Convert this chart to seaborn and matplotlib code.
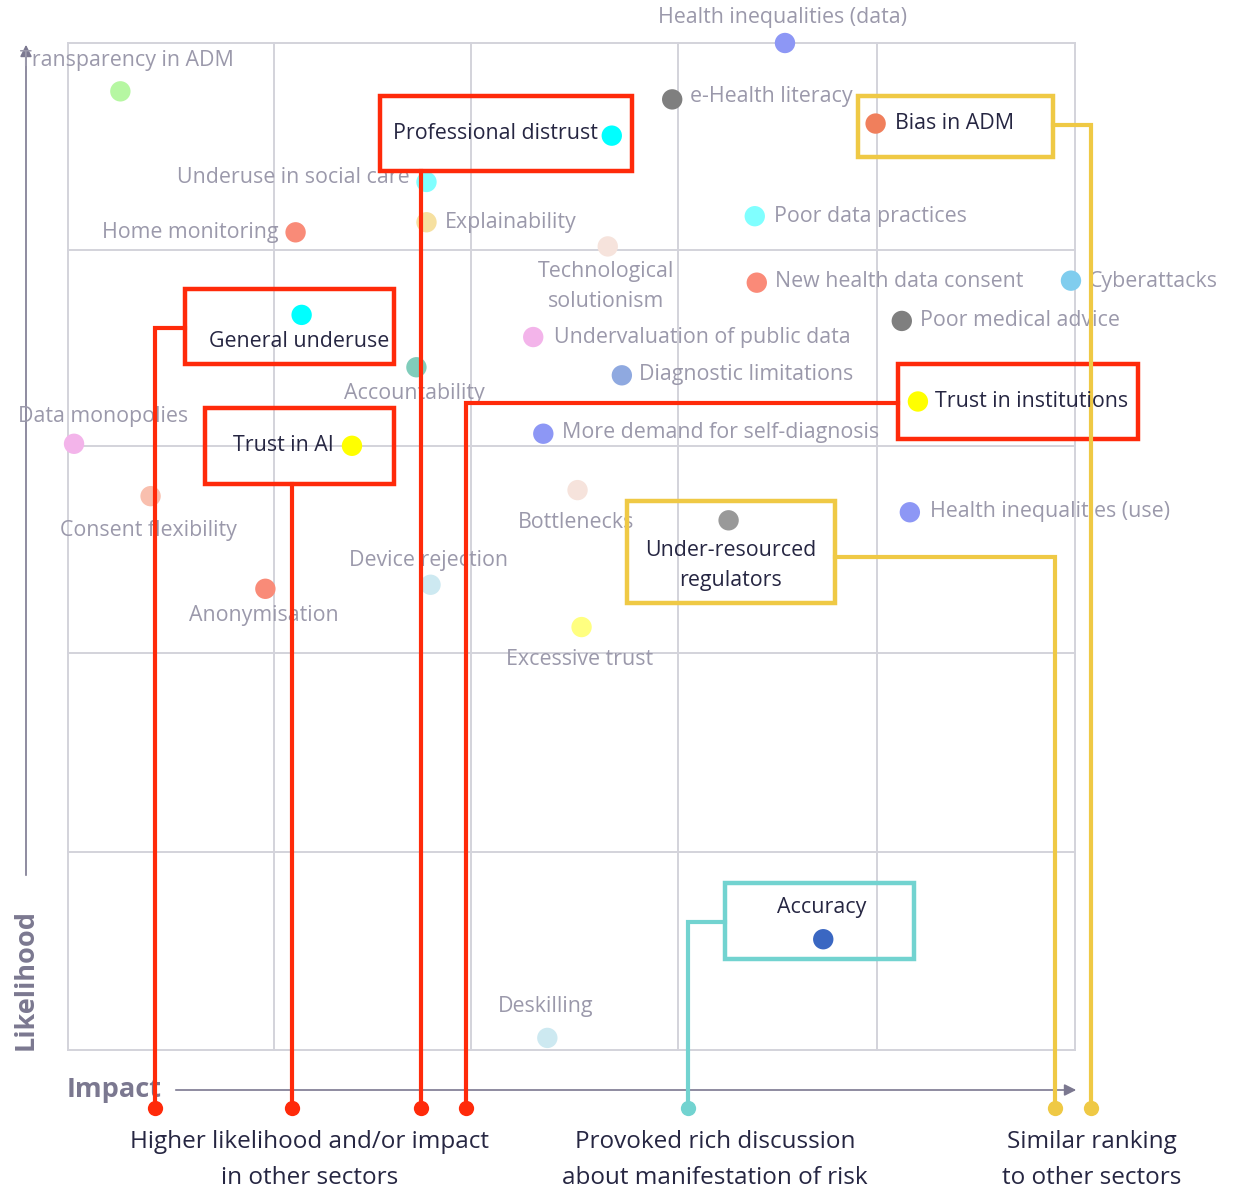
"""Risk matrix: likelihood vs impact of data-driven health risks, with highlighted groups."""

import matplotlib

matplotlib.use("Agg")

import matplotlib.pyplot as plt
import pandas as pd
import seaborn as sns
from matplotlib.patches import Rectangle

# --- data (impact / likelihood on a 0-5 grid) -------------------------------
risks = [
    "Transparency in ADM", "Health inequalities (data)", "e-Health literacy",
    "Professional distrust", "Bias in ADM", "Underuse in social care",
    "Explainability", "Poor data practices", "Home monitoring",
    "Technological\nsolutionism", "New health data consent", "Cyberattacks",
    "Poor medical advice", "General underuse", "Undervaluation of public data",
    "Accountability", "Diagnostic limitations", "Trust in institutions",
    "Data monopolies", "Trust in AI", "More demand for self-diagnosis",
    "Consent flexibility", "Bottlenecks", "Under-resourced\nregulators",
    "Health inequalities (use)", "Device rejection", "Anonymisation",
    "Excessive trust", "Accuracy", "Deskilling",
]
impact = [
    0.26, 3.56, 3.00, 2.70, 4.01, 1.78, 1.78, 3.41, 1.13, 2.68,
    3.42, 4.98, 4.14, 1.16, 2.31, 1.73, 2.75, 4.22, 0.03, 1.41,
    2.36, 0.41, 2.53, 3.28, 4.18, 1.80, 0.98, 2.55, 3.75, 2.38,
]
likelihood = [
    4.76, 5.00, 4.72, 4.54, 4.60, 4.31, 4.11, 4.14, 4.06, 3.99,
    3.81, 3.82, 3.62, 3.65, 3.54, 3.39, 3.35, 3.22, 3.01, 3.00,
    3.06, 2.75, 2.78, 2.63, 2.67, 2.31, 2.29, 2.10, 0.55, 0.06,
]
colors = [
    "#b6f7a2", "#8d97f5", "#7f7f7f", "#00ffff", "#f07f5c", "#80ffff",
    "#f6e0a0", "#80ffff", "#f98b78", "#f6e3dc", "#fa8a78", "#80cdee",
    "#7f7f7f", "#00ffff", "#f3b4ea", "#80cdbb", "#8fa9e0", "#ffff00",
    "#f3b4ea", "#ffff00", "#8d97f5", "#f9bfae", "#f6e3dc", "#999999",
    "#8d97f5", "#cde9f1", "#f98b78", "#ffff80", "#3a67c2", "#cde9f1",
]
highlighted = {
    "Professional distrust", "Bias in ADM", "General underuse",
    "Trust in institutions", "Trust in AI", "Under-resourced\nregulators", "Accuracy",
}
group_labels = [
    "Higher likelihood and/or impact\nin other sectors",
    "Provoked rich discussion\nabout manifestation of risk",
    "Similar ranking\nto other sectors",
]

# --- layout (pixels on the 1238x1189 canvas) --------------------------------
W, H = 1238, 1189
UNIT = 201.4
X0, Y0 = 68, 1050


def d(px, py):
    """Pixel position -> data coordinates."""
    return (px - X0) / UNIT, (Y0 - py) / UNIT


grid_px_x = [68, 274, 471, 678, 877, 1075]
grid_px_y = [43, 250, 446, 653, 852, 1050]

# label offsets (dx, dy px; +dy is up), horizontal alignment
label_pos = {
    "Transparency in ADM": (7, 31, "center"),
    "Health inequalities (data)": (-2, 26, "center"),
    "e-Health literacy": (18, 3, "left"),
    "Professional distrust": (-14, 2, "right"),
    "Bias in ADM": (19, 0, "left"),
    "Underuse in social care": (-17, 4, "right"),
    "Explainability": (18, 0, "left"),
    "Poor data practices": (19, 0, "left"),
    "Home monitoring": (-17, 0, "right"),
    "Technological\nsolutionism": (-2, -40, "center"),
    "New health data consent": (18, 1, "left"),
    "Cyberattacks": (18, -1, "left"),
    "Poor medical advice": (18, 0, "left"),
    "General underuse": (-2, -27, "center"),
    "Undervaluation of public data": (21, 0, "left"),
    "Accountability": (-2, -26, "center"),
    "Diagnostic limitations": (17, 1, "left"),
    "Trust in institutions": (17, 0, "left"),
    "Data monopolies": (29, 27, "center"),
    "Trust in AI": (-18, 0, "right"),
    "More demand for self-diagnosis": (19, 1, "left"),
    "Consent flexibility": (-2, -34, "center"),
    "Bottlenecks": (-1, -32, "center"),
    "Under-resourced\nregulators": (2, -45, "center"),
    "Health inequalities (use)": (20, 1, "left"),
    "Device rejection": (-2, 24, "center"),
    "Anonymisation": (-2, -27, "center"),
    "Excessive trust": (-2, -32, "center"),
    "Accuracy": (-2, 32, "center"),
    "Deskilling": (-2, 31, "center"),
}

RED, YELLOW, TEAL = "#ff2a0a", "#efc945", "#72d3d0"
boxes = [  # (left, top, right, bottom) px
    ((380, 96, 632, 171), RED),
    ((858, 96, 1053, 157), YELLOW),
    ((185, 289, 394, 364), RED),
    ((898, 364, 1138, 439), RED),
    ((205, 408, 394, 484), RED),
    ((627, 501, 835, 603), YELLOW),
    ((725, 883, 914, 959), TEAL),
]
DOT_Y = 1108
connectors = [
    ([(185, 328), (155, 328), (155, DOT_Y)], RED),
    ([(292, 484), (292, DOT_Y)], RED),
    ([(421, 171), (421, DOT_Y)], RED),
    ([(898, 403), (466, 403), (466, DOT_Y)], RED),
    ([(725, 922), (688, 922), (688, DOT_Y)], TEAL),
    ([(835, 557), (1055, 557), (1055, DOT_Y)], YELLOW),
    ([(1053, 125), (1091, 125), (1091, DOT_Y)], YELLOW),
]
group_x = [310, 715, 1092]

GREY_TXT = "#9b99ab"
DARK_TXT = "#262642"
AXIS = "#7b7890"
GRID = "#d3d3db"

plt.rcParams["font.family"] = ["Open Sans", "DejaVu Sans"]

df = pd.DataFrame({"risk": risks, "impact": impact, "likelihood": likelihood})
palette = dict(zip(risks, colors))

fig = plt.figure(figsize=(W / 100, H / 100), dpi=100)
ax = fig.add_axes([0, 0, 1, 1])
ax.set_xlim(d(0, 0)[0], d(W, 0)[0])
ax.set_ylim(d(0, H)[1], d(0, 0)[1])
ax.axis("off")

# grid 5x5
gx = [d(p, 0)[0] for p in grid_px_x]
gy = [d(0, p)[1] for p in grid_px_y]
for v in gx:
    ax.plot([v, v], [gy[-1], gy[0]], color=GRID, lw=1.4, zorder=0.5)
for v in gy:
    ax.plot([gx[0], gx[-1]], [v, v], color=GRID, lw=1.4, zorder=0.5)

sns.scatterplot(data=df, x="impact", y="likelihood", hue="risk", palette=palette,
                s=215, edgecolor="none", legend=False, ax=ax, zorder=2)

for name, xv, yv in zip(risks, impact, likelihood):
    dx, dy, ha = label_pos[name]
    hl = name in highlighted
    ax.annotate(name, (xv, yv), xytext=(dx, dy), textcoords="offset pixels",
                ha=ha, va="center", fontsize=15.4, linespacing=1.6,
                color=DARK_TXT if hl else GREY_TXT, zorder=4 if hl else 1.5)

for (l, t, r, b), c in boxes:
    (x1, y1), (x2, y2) = d(l, b), d(r, t)
    ax.add_patch(Rectangle((x1, y1), x2 - x1, y2 - y1, fill=False, ec=c, lw=3.2, zorder=3))

for path, c in connectors:
    pts = [d(*p) for p in path]
    ax.plot([p[0] for p in pts], [p[1] for p in pts], color=c, lw=3, zorder=3.5,
            solid_joinstyle="miter")
    ax.plot(pts[-1][0], pts[-1][1], "o", color=c, ms=11, mec="none", zorder=3.6)

# axis arrows
ax.annotate("", xy=d(26, 42), xytext=d(26, 878), zorder=1,
            arrowprops=dict(arrowstyle="-|>,head_length=0.7,head_width=0.35", color=AXIS, lw=1.2))
ax.annotate("", xy=d(1079, 1090), xytext=d(173, 1090), zorder=1,
            arrowprops=dict(arrowstyle="-|>,head_length=0.7,head_width=0.35", color=AXIS, lw=1.2))
ax.text(*d(26, 980), "Likelihood", rotation=90, ha="center", va="center",
        fontsize=19.5, fontweight="bold", color=AXIS)
ax.text(*d(67, 1090), "Impact", ha="left", va="center",
        fontsize=19.5, fontweight="bold", color=AXIS)

for gxp, lab in zip(group_x, group_labels):
    ax.text(*d(gxp, 1160), lab, ha="center", va="center", fontsize=17.5,
            linespacing=1.65, color=DARK_TXT)

fig.savefig("out.png", dpi=100, facecolor="white")
plt.close(fig)
